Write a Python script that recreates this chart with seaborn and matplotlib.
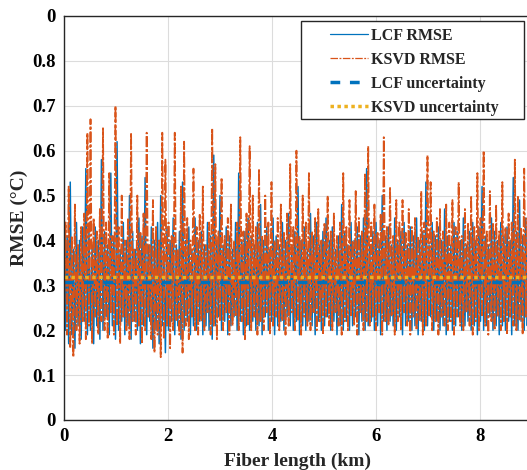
import matplotlib

matplotlib.use("Agg")
import matplotlib.pyplot as plt
import numpy as np
import seaborn as sns
from matplotlib.patches import Rectangle

FIGURE_SIZE = (5.27, 4.70)
DPI = 100
LCF_COLOR = "#0072BD"
KSVD_COLOR = "#D95319"
YELLOW = "#EDB120"
EDGE_COLOR = "#262626"
GRID_COLOR = "#dcdcdc"
FONT = ["Liberation Serif", "DejaVu Serif"]

# spacing between samples along the fibre (km)
STEP_KM = 0.03

# RMSE values, in hundredths of a degree C
LCF_RMSE = [
    46, 20, 41, 17, 53, 19, 38, 16, 44, 21, 40, 18, 43, 22, 56, 19, 42, 20, 39, 17,
    43, 21, 40, 18, 58, 20, 42, 23, 39, 19, 55, 21, 41, 18, 62, 20, 38, 22, 44, 19,
    40, 21, 50, 18, 42, 22, 38, 20, 45, 17, 41, 21, 54, 19, 39, 22, 43, 16, 40, 20,
    44, 17, 50, 21, 38, 15, 43, 20, 40, 22, 45, 19, 39, 21, 42, 18, 53, 20, 40, 22,
    43, 19, 38, 21, 45, 20, 40, 22, 42, 19, 39, 21, 44, 20, 41, 18, 59, 21, 40, 23,
    50, 20, 39, 22, 43, 19, 41, 21, 38, 23, 44, 20, 55, 22, 40, 19, 42, 21, 45, 20,
    41, 22, 39, 20, 44, 21, 48, 19, 40, 23, 43, 20, 38, 22, 45, 19, 41, 21, 39, 22,
    44, 20, 40, 23, 46, 21, 39, 20, 42, 22, 52, 19, 40, 21, 43, 20, 38, 22, 46, 21,
    41, 19, 44, 22, 39, 20, 42, 21, 45, 23, 40, 20, 43, 22, 38, 19, 41, 21, 48, 20,
    42, 22, 39, 20, 44, 21, 40, 23, 43, 19, 41, 22, 45, 20, 56, 21, 39, 22, 42, 20,
    44, 21, 40, 19, 50, 22, 41, 20, 43, 22, 39, 21, 45, 20, 40, 23, 42, 19, 44, 21,
    39, 22, 43, 20, 41, 21, 45, 19, 40, 22, 42, 20, 53, 21, 39, 23, 44, 20, 41, 22,
    43, 20, 40, 21, 47, 19, 41, 22, 39, 20, 44, 21, 42, 23, 40, 20, 45, 21, 39, 22,
    42, 20, 44, 21, 40, 19, 43, 22, 52, 20, 41, 21, 39, 23, 45, 20, 42, 21, 40, 19,
    44, 21, 41, 20, 43, 22, 40, 19, 54, 21, 42, 20, 49, 22, 41, 20, 45, 21, 40, 22,
]
KSVD_RMSE = [
    24, 44, 19, 52, 16, 41, 14, 48, 20, 39, 17, 43, 22, 46, 18, 64, 21, 67, 17, 45,
    23, 42, 19, 47, 22, 65, 20, 44, 18, 55, 24, 41, 19, 70, 21, 43, 17, 50, 23, 40,
    20, 45, 18, 64, 22, 38, 19, 50, 21, 42, 17, 46, 20, 64, 23, 39, 18, 49, 15, 43,
    19, 40, 14, 64, 18, 58, 21, 44, 16, 41, 20, 64, 22, 38, 19, 52, 15, 62, 21, 45,
    18, 40, 23, 56, 20, 43, 19, 46, 22, 52, 20, 39, 24, 44, 19, 65, 21, 57, 18, 42,
    22, 54, 20, 41, 24, 45, 19, 48, 21, 40, 23, 44, 20, 63, 22, 42, 18, 46, 21, 61,
    20, 50, 23, 43, 19, 56, 22, 41, 20, 50, 24, 44, 19, 53, 21, 40, 23, 45, 20, 48,
    22, 42, 19, 46, 21, 57, 24, 43, 20, 60, 22, 41, 19, 50, 23, 44, 21, 55, 20, 42,
    24, 45, 20, 47, 22, 40, 19, 44, 23, 50, 21, 42, 20, 46, 24, 41, 21, 44, 19, 55,
    22, 43, 20, 49, 23, 40, 21, 51, 19, 45, 24, 42, 20, 55, 22, 61, 21, 44, 23, 48,
    20, 42, 24, 46, 19, 63, 22, 43, 21, 52, 23, 41, 19, 49, 22, 44, 20, 49, 24, 42,
    21, 47, 19, 43, 23, 45, 20, 41, 22, 51, 19, 44, 21, 59, 23, 53, 20, 42, 22, 45,
    19, 47, 23, 42, 21, 48, 20, 44, 22, 49, 19, 43, 23, 53, 21, 41, 20, 47, 24, 44,
    21, 50, 19, 43, 22, 55, 20, 45, 23, 60, 21, 42, 19, 51, 22, 44, 20, 48, 23, 42,
    20, 53, 22, 43, 19, 46, 23, 44, 21, 58, 20, 50, 22, 43, 19, 56, 23, 45, 21, 49,
]
LCF_UNCERTAINTY = 0.307
KSVD_UNCERTAINTY = 0.319

X_TICKS = [0, 2, 4, 6, 8]
Y_TICKS = [0, 0.1, 0.2, 0.3, 0.4, 0.5, 0.6, 0.7, 0.8, 0.9]
Y_TICK_LABELS = ["0", "0.1", "0.2", "0.3", "0.4", "0.5", "0.6", "0.7", "0.8", "0"]


def plot_rmse():
    sns.set_theme(style="white")
    plt.rcParams["font.family"] = FONT
    plt.rcParams["font.weight"] = "bold"

    fig = plt.figure(figsize=FIGURE_SIZE, dpi=DPI)
    fig.patch.set_facecolor("white")
    # axes run a little past the right edge, like the cropped original
    ax = fig.add_axes([64 / 527, 50 / 470, 468 / 527, 404 / 470])

    x_km = np.arange(len(LCF_RMSE)) * STEP_KM
    lcf = np.array(LCF_RMSE) / 100
    ksvd = np.array(KSVD_RMSE) / 100

    sns.lineplot(x=x_km, y=lcf, ax=ax, color=LCF_COLOR, linewidth=1.1,
                 estimator=None, sort=False, label="LCF RMSE")
    sns.lineplot(x=x_km, y=ksvd, ax=ax, color=KSVD_COLOR, linewidth=1.3,
                 estimator=None, sort=False, label="KSVD RMSE",
                 linestyle=(0, (6, 1.2, 1.5, 1.2)))
    ax.axhline(LCF_UNCERTAINTY, color=LCF_COLOR, linewidth=2.5,
               linestyle=(0, (2.8, 2.8)), label="LCF uncertainty")
    ax.axhline(KSVD_UNCERTAINTY, color=YELLOW, linewidth=2.5,
               linestyle=(0, (1, 1)), label="KSVD uncertainty")

    ax.set_xlim(0, 9)
    ax.set_ylim(0, 0.9)
    ax.set_xticks(X_TICKS)
    ax.set_xticklabels([str(t) for t in X_TICKS])
    ax.set_yticks(Y_TICKS)
    ax.set_yticklabels(Y_TICK_LABELS)
    ax.tick_params(direction="in", length=3, width=0.8, colors=EDGE_COLOR,
                   labelsize=13.5, pad=6)
    for lbl in ax.get_xticklabels() + ax.get_yticklabels():
        lbl.set_fontweight("bold")
        lbl.set_color("black")

    ax.grid(True, color=GRID_COLOR, linewidth=0.8)
    ax.set_axisbelow(True)
    for side in ["left", "bottom", "top", "right"]:
        ax.spines[side].set_color(EDGE_COLOR)
        ax.spines[side].set_linewidth(1.0)

    ax.set_xlabel("Fiber length (km)", fontsize=14, fontweight="bold", labelpad=5)
    ax.set_ylabel("RMSE (°C)", fontsize=14, fontweight="bold", labelpad=3)

    # legend without its own frame, box drawn separately in figure coords
    leg = ax.legend(loc="upper left", bbox_to_anchor=(330 / 527, 1 - 28 / 470),
                    bbox_transform=fig.transFigure, frameon=False,
                    prop={"family": FONT, "weight": "bold", "size": 11.5},
                    handlelength=2.4, handletextpad=0.15, labelspacing=0.5,
                    borderaxespad=0, borderpad=0)
    leg_lines = leg.get_lines()
    leg_lines[0].set_linewidth(0.9)
    leg_lines[1].set_linewidth(0.9)
    leg.set_zorder(6)
    box = Rectangle((301 / 527, 1 - 119 / 470), 223 / 527, 98 / 470,
                    transform=fig.transFigure, facecolor="white",
                    edgecolor=EDGE_COLOR, linewidth=1.0, zorder=5, clip_on=False)
    ax.add_patch(box)
    return fig


fig = plot_rmse()
fig.savefig("out.png", dpi=DPI)
plt.close(fig)
